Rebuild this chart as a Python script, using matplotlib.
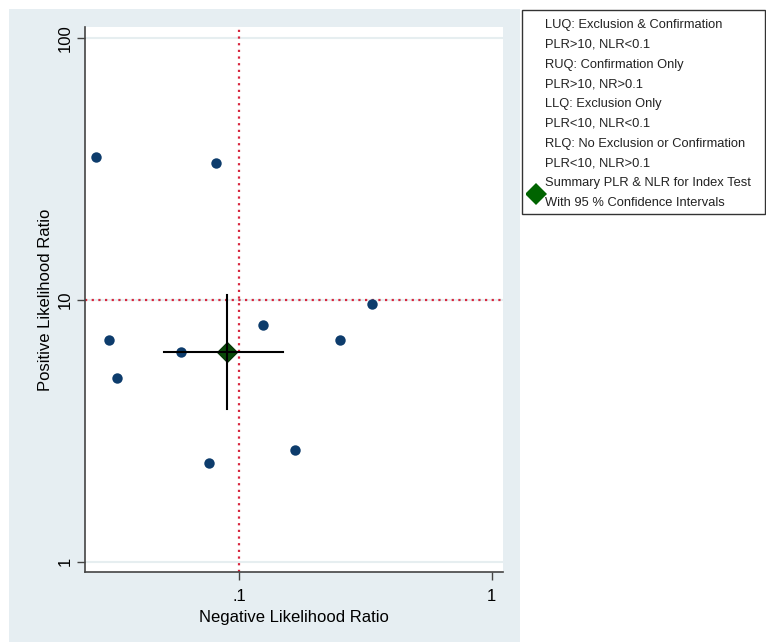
import matplotlib
matplotlib.use("Agg")
import matplotlib.pyplot as plt
from matplotlib.patches import Rectangle
import numpy as np

plt.rcParams['font.family'] = ['Liberation Sans', 'DejaVu Sans']

# study estimates
nlr = [0.0271, 0.0811, 0.336, 0.1245, 0.25, 0.0305, 0.0586, 0.0327, 0.1665, 0.0756]
plr = [35.1, 33.2, 9.66, 8.02, 7.02, 7.03, 6.33, 5.02, 2.67, 2.39]

# summary point and 95% CI
sum_nlr = 0.0896
sum_plr = 6.33
nlr_ci = [0.0502, 0.149]
plr_ci = [3.82, 10.4]

legend_lines = [
    "LUQ: Exclusion & Confirmation",
    "PLR>10, NLR<0.1",
    "RUQ: Confirmation Only",
    "PLR>10, NR>0.1",
    "LLQ: Exclusion Only",
    "PLR<10, NLR<0.1",
    "RLQ: No Exclusion or Confirmation",
    "PLR<10, NLR>0.1",
    "Summary PLR & NLR for Index Test",
    "With 95 % Confidence Intervals",
]

W, H = 766, 643
fig = plt.figure(figsize=(W / 100, H / 100), dpi=100)
fig.patch.set_facecolor("white")

# graph region background
fig.patches.append(Rectangle((9 / W, 1 - 642 / H), (520 - 9) / W, (642 - 9) / H,
                             transform=fig.transFigure, facecolor="#e6eef2",
                             edgecolor="none", zorder=-2))

ax = fig.add_axes([85 / W, 1 - 572.3 / H, (502.7 - 85) / W, (572.3 - 27.3) / H])
ax.set_zorder(1)
ax.set_facecolor("white")
ax.set_xscale("log")
ax.set_yscale("log")
ax.set_xlim(0.0245, 1.105)
ax.set_ylim(0.911, 110)

for v in [1, 10, 100]:
    ax.axhline(v, color="#e6eef0", lw=1.5, zorder=1)

ax.axvline(0.1, color="#d7263d", lw=1.6, ls=(0, (1, 2)), zorder=2)
ax.axhline(10, color="#d7263d", lw=1.6, ls=(0, (1, 2)), zorder=2)

ax.plot(nlr, plr, "o", color="#0d3c6c", ms=7.5, mew=0, zorder=3, ls="none")

ax.plot([sum_nlr], [sum_plr], "D", color="#094a09", mec="#053505", mew=0.8, ms=9.8, zorder=3.5)
ax.plot(nlr_ci, [sum_plr, sum_plr], color="black", lw=1.5, zorder=4)
ax.plot([sum_nlr, sum_nlr], plr_ci, color="black", lw=1.5, zorder=4)

ax.set_xticks([0.1, 1])
ax.set_xticklabels([".1", "1"])
ax.set_yticks([1, 10, 100])
ax.set_yticklabels(["1", "10", "100"], rotation=90, va="center")
ax.minorticks_off()
ax.tick_params(axis="both", labelsize=12, length=5.5, width=1, color="#444444")
ax.tick_params(axis="y", pad=3.5)
ax.tick_params(axis="x", pad=6.5)

for s in ["top", "right"]:
    ax.spines[s].set_visible(False)
for s in ["left", "bottom"]:
    ax.spines[s].set_color("#444444")
    ax.spines[s].set_linewidth(1.2)

ax.set_xlabel("Negative Likelihood Ratio", fontsize=12, labelpad=4.5)
ax.set_ylabel("Positive Likelihood Ratio", fontsize=12, labelpad=3)

# legend box drawn by hand
lx0, ly0, lx1, ly1 = 522, 10, 765, 214
fig.patches.append(Rectangle((lx0 / W, 1 - ly1 / H), (lx1 - lx0) / W, (ly1 - ly0) / H,
                             transform=fig.transFigure, facecolor="white",
                             edgecolor="#333333", lw=1.0, zorder=-1))
for i, txt in enumerate(legend_lines):
    fig.text(545 / W, 1 - (25 + 19.8 * i) / H, txt, fontsize=9.3,
             va="center", ha="left", color="#222222")
lax = fig.add_axes([526 / W, 1 - 205.5 / H, 20 / W, 24 / H])
lax.set_zorder(2)
lax.set_axis_off()
lax.set_xlim(0, 1)
lax.set_ylim(0, 1)
lax.plot([0.5], [0.5], "D", color="#006400", ms=11.2, mew=0)

fig.savefig("out.png", dpi=100, facecolor="white")
